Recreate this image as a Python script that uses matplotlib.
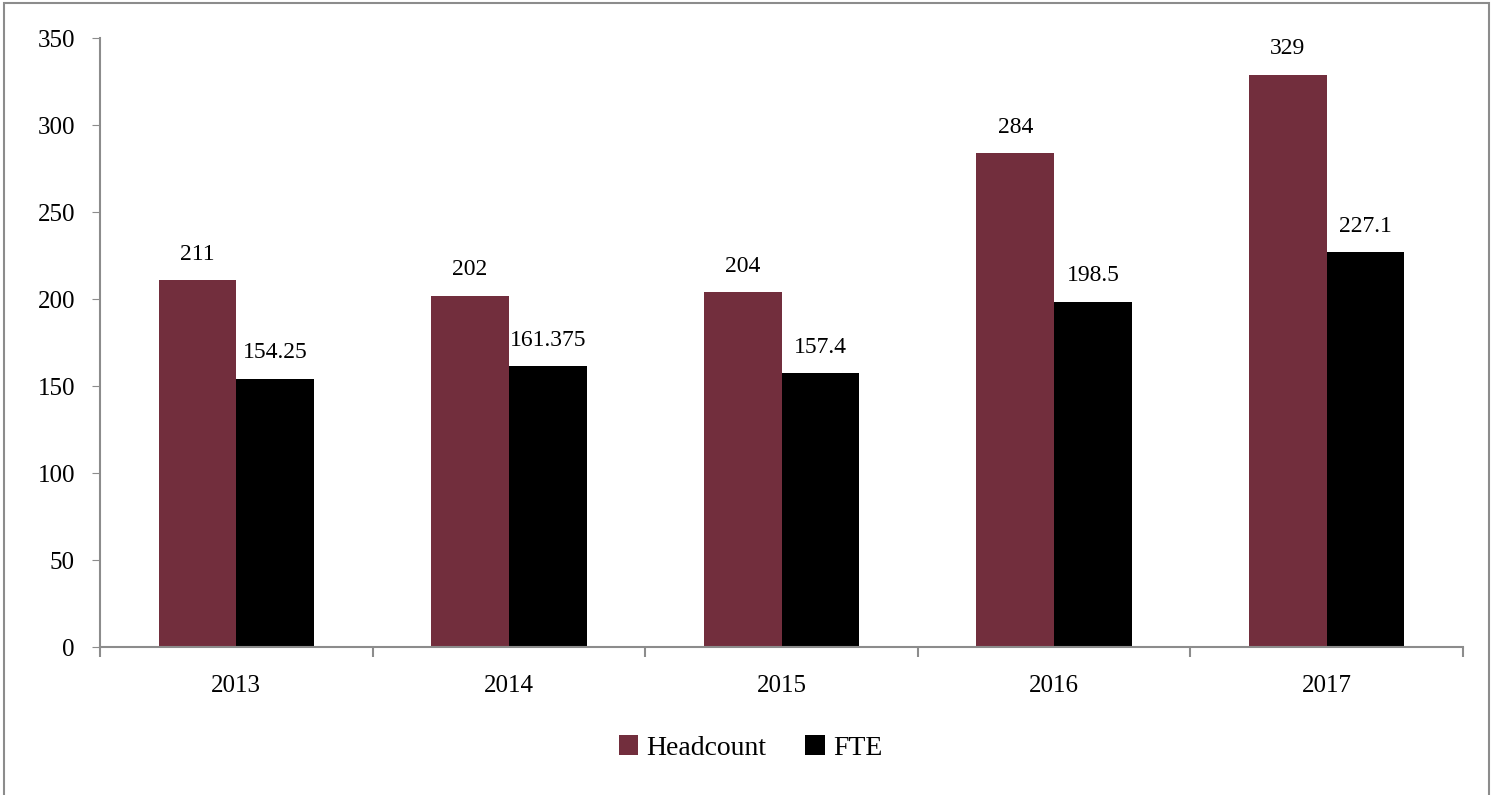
import numpy as np
import matplotlib.pyplot as plt
from matplotlib.patches import Rectangle

# data
years = ['2013', '2014', '2015', '2016', '2017']
headcount = [211, 202, 204, 284, 329]
fte = [154.25, 161.375, 157.4, 198.5, 227.1]
headcount_labels = ['211', '202', '204', '284', '329']
fte_labels = ['154.25', '161.375', '157.4', '198.5', '227.1']

MAROON = '#722E3D'
GREY = '#8C8C8C'

plt.rcParams['font.family'] = ['Liberation Serif', 'DejaVu Serif']

fig = plt.figure(figsize=(14.92, 7.95), dpi=100)
ax = fig.add_axes([0.067, 0.186, 0.9136, 0.766])

x = np.arange(len(years))
w = 0.285
b1 = ax.bar(x - w / 2, headcount, w, color=MAROON, label='Headcount')
b2 = ax.bar(x + w / 2, fte, w, color='black', label='FTE')

for rect, txt in zip(b1, headcount_labels):
    ax.annotate(txt, (rect.get_x() + rect.get_width() / 2, rect.get_height()),
                xytext=(0, 11), textcoords='offset points', ha='center', va='bottom', fontsize=17)
for rect, txt in zip(b2, fte_labels):
    ax.annotate(txt, (rect.get_x() + rect.get_width() / 2, rect.get_height()),
                xytext=(0, 11), textcoords='offset points', ha='center', va='bottom', fontsize=17)

ax.set_xlim(-0.5, len(years) - 0.5)
ax.set_ylim(0, 350)
ax.set_yticks(range(0, 351, 50))
ax.tick_params(axis='y', length=6, color=GREY, labelsize=18, pad=12)

# category labels in the middle, ticks on the group boundaries
ax.set_xticks(x)
ax.set_xticklabels(years, fontsize=18)
ax.set_xticks(np.arange(-0.5, len(years), 1), minor=True)
ax.tick_params(axis='x', which='major', length=0, pad=20)
ax.tick_params(axis='x', which='minor', length=7, color=GREY, width=1.5)

for s in ['top', 'right']:
    ax.spines[s].set_visible(False)
for s in ['left', 'bottom']:
    ax.spines[s].set_color(GREY)
    ax.spines[s].set_linewidth(1.5)

fig.legend(loc='center', bbox_to_anchor=(0.503, 0.059), ncol=2, frameon=False,
           fontsize=20, handlelength=0.7, handleheight=0.7, handletextpad=0.3, columnspacing=1.4)

# outer chart border
fig.patches.append(Rectangle((0.003, -0.05), 0.995, 1.046, transform=fig.transFigure,
                             fill=False, edgecolor=GREY, linewidth=1.5))

fig.savefig('out.png', dpi=100)
